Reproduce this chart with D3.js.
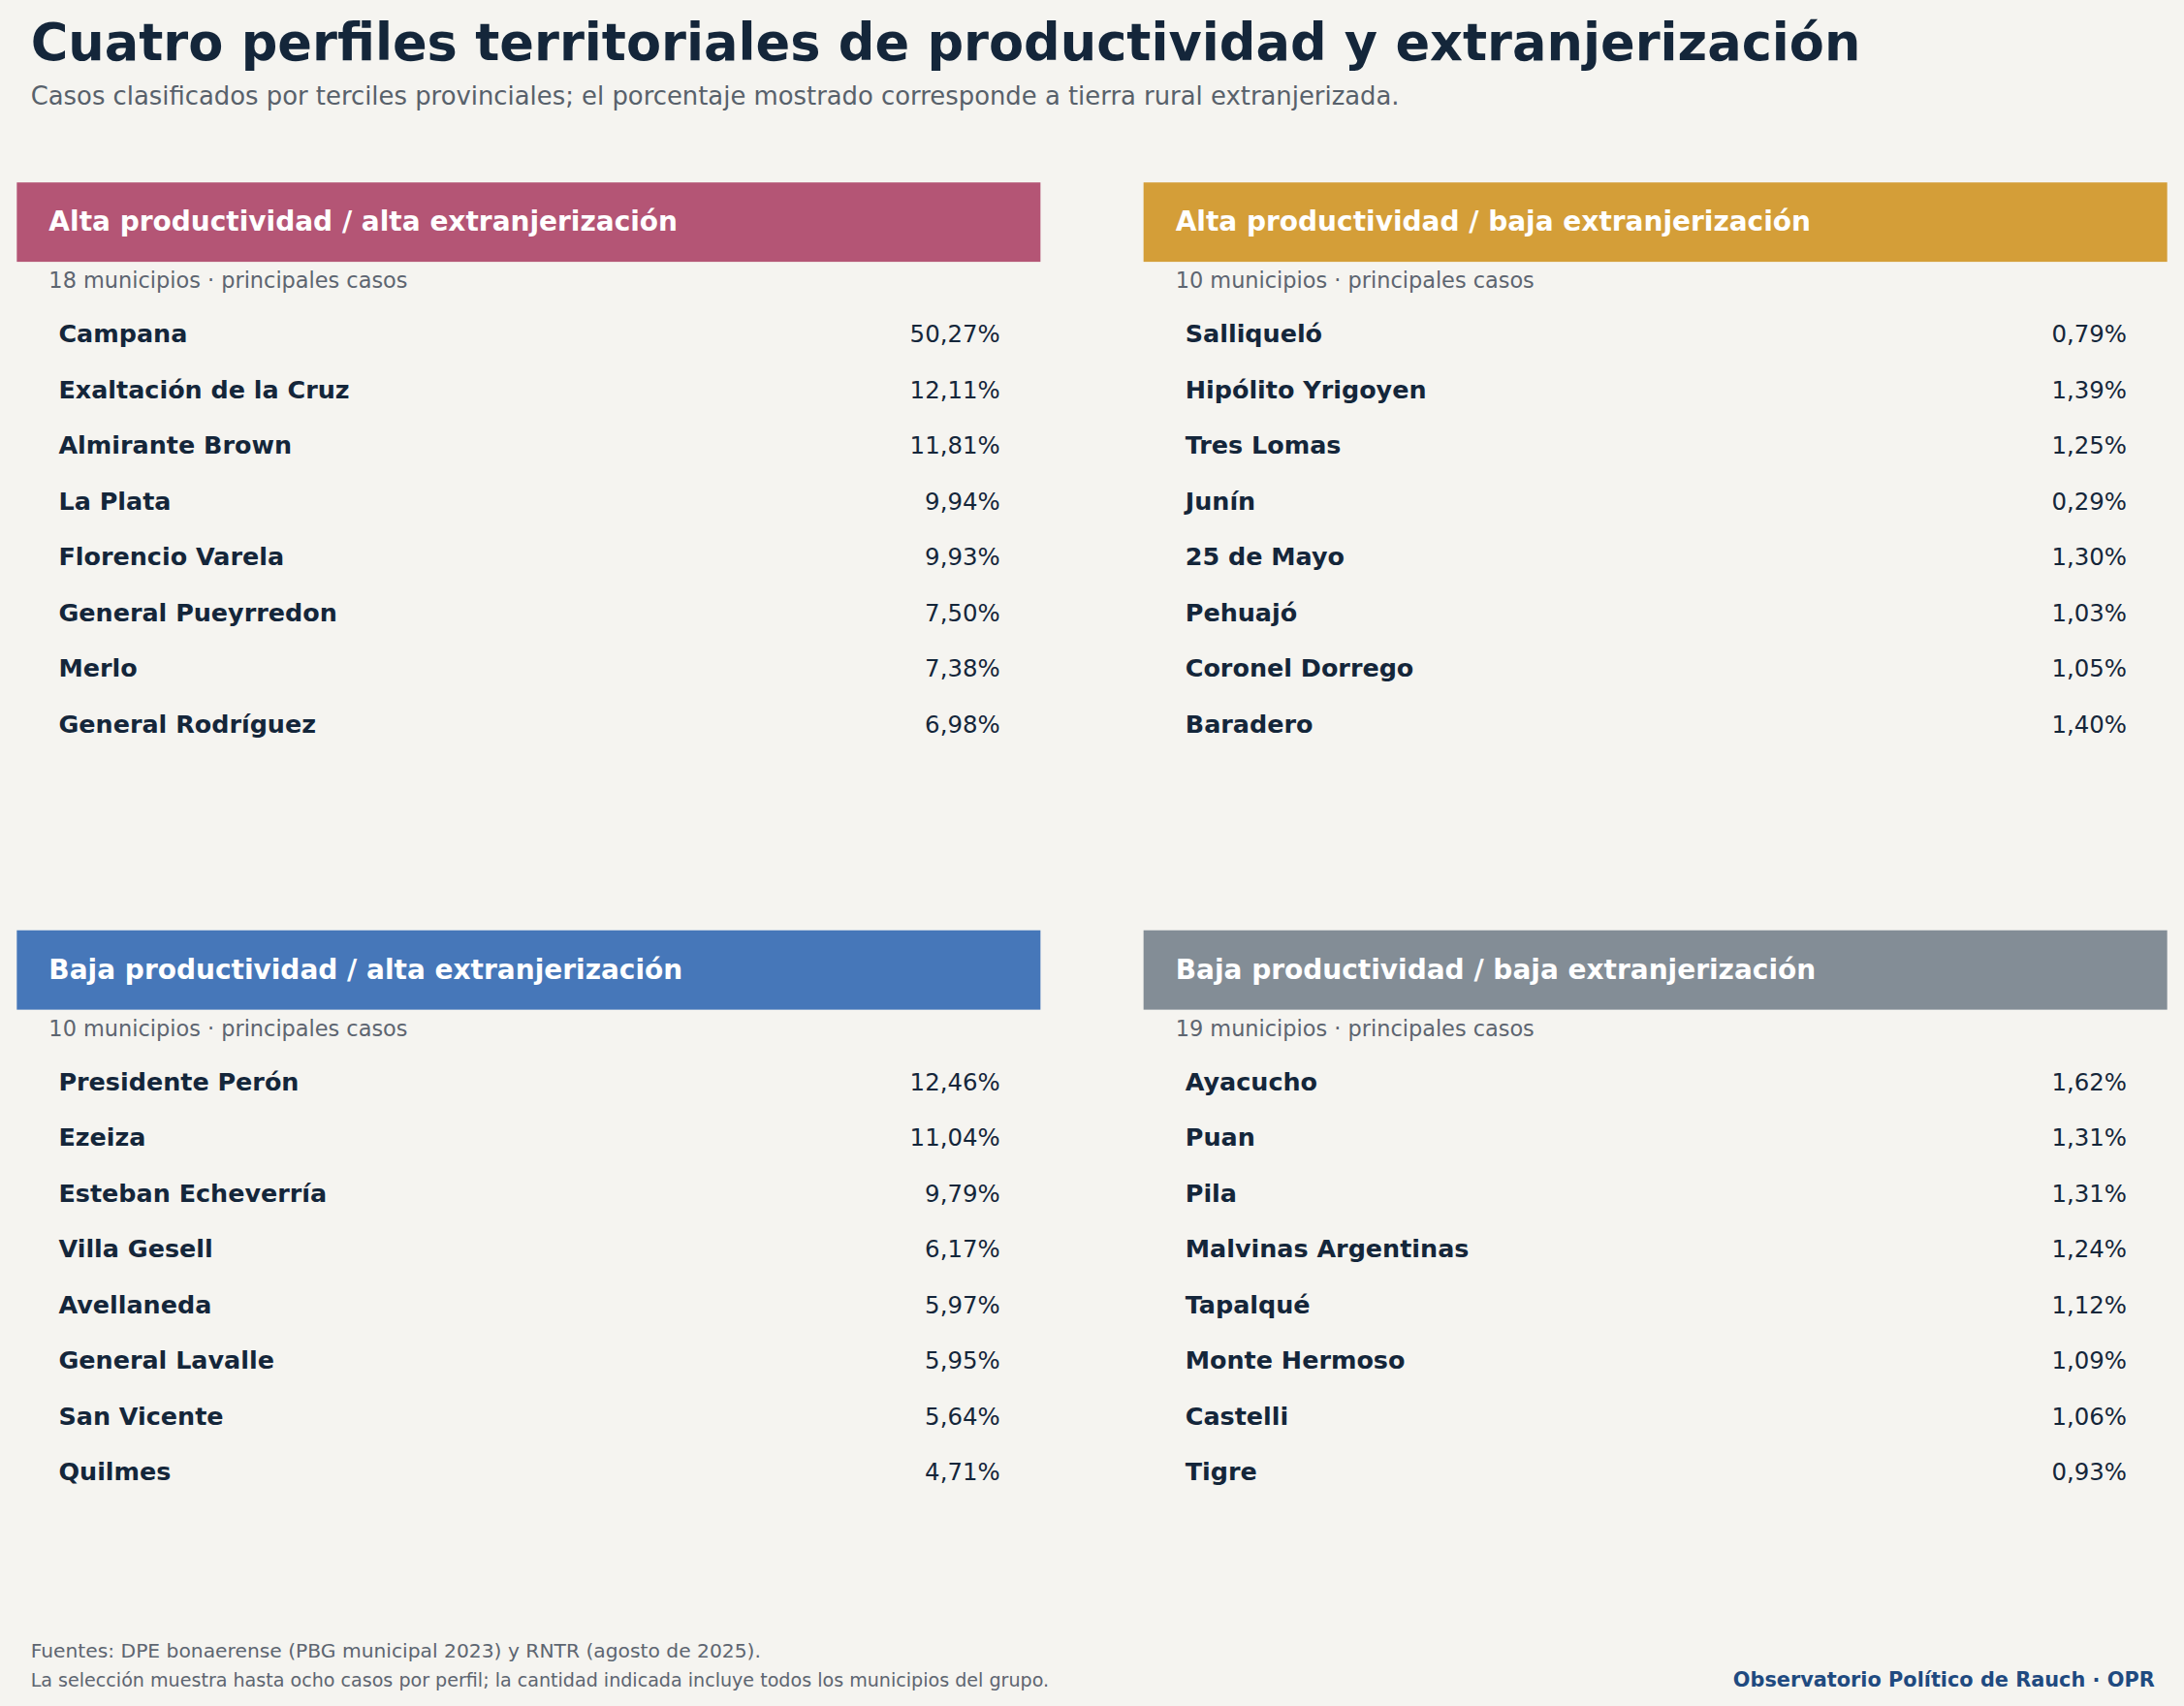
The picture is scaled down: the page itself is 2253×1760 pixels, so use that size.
<!DOCTYPE html>
<html><head><meta charset="utf-8">
<script src="https://cdn.jsdelivr.net/npm/d3@7"></script>
<style>html,body{margin:0;padding:0;background:#f5f4f0}</style>
</head><body>
<script>
const panelTitles = ["Alta productividad / alta extranjerización","Alta productividad / baja extranjerización","Baja productividad / alta extranjerización","Baja productividad / baja extranjerización"];
const panelColors = ["#b45575","#d49e38","#4677b9","#838d96"];
const panelCounts = [18,10,10,19];
const names1 = ["Campana","Exaltación de la Cruz","Almirante Brown","La Plata","Florencio Varela","General Pueyrredon","Merlo","General Rodríguez"];
const values1 = [50.27,12.11,11.81,9.94,9.93,7.50,7.38,6.98];
const names2 = ["Salliqueló","Hipólito Yrigoyen","Tres Lomas","Junín","25 de Mayo","Pehuajó","Coronel Dorrego","Baradero"];
const values2 = [0.79,1.39,1.25,0.29,1.30,1.03,1.05,1.40];
const names3 = ["Presidente Perón","Ezeiza","Esteban Echeverría","Villa Gesell","Avellaneda","General Lavalle","San Vicente","Quilmes"];
const values3 = [12.46,11.04,9.79,6.17,5.97,5.95,5.64,4.71];
const names4 = ["Ayacucho","Puan","Pila","Malvinas Argentinas","Tapalqué","Monte Hermoso","Castelli","Tigre"];
const values4 = [1.62,1.31,1.31,1.24,1.12,1.09,1.06,0.93];
const allNames=[names1,names2,names3,names4], allVals=[values1,values2,values3,values4];

const W=1568,H=1225;
const svg=d3.select("body").append("svg").attr("width",2253).attr("height",1760)
 .attr("viewBox",`0 0 ${W} ${H}`).style("font-family","DejaVu Sans, sans-serif").style("display","block");
svg.append("rect").attr("width",W).attr("height",H).attr("fill","#f5f4f0");
svg.append("text").attr("x",22).attr("y",43).attr("font-size",36.6).attr("font-weight","bold").attr("fill","#14263a").text("Cuatro perfiles territoriales de productividad y extranjerización");
svg.append("text").attr("x",22).attr("y",75).attr("font-size",18).attr("fill","#58616b").text("Casos clasificados por terciles provinciales; el porcentaje mostrado corresponde a tierra rural extranjerizada.");

const fmt=v=>v.toFixed(2).replace(".",",")+"%";
const px=[12,821], py=[131,668], pw=735, hh=57;
const rowY=d3.scaleLinear().domain([0,1]).range([0,40]);
for(let i=0;i<4;i++){
  const x0=px[i%2], y0=py[Math.floor(i/2)];
  const g=svg.append("g").attr("transform",`translate(${x0},${y0})`);
  g.append("rect").attr("width",pw).attr("height",hh).attr("fill",panelColors[i]);
  g.append("text").attr("x",23).attr("y",35).attr("font-size",19.5).attr("font-weight","bold").attr("fill","#fff").text(panelTitles[i]);
  g.append("text").attr("x",23).attr("y",76).attr("font-size",15.6).attr("fill","#5d6570").text(`${panelCounts[i]} municipios · principales casos`);
  const rows=g.selectAll("g.r").data(allNames[i].map((n,k)=>({n,v:allVals[i][k]}))).join("g")
    .attr("transform",(d,k)=>`translate(0,${115+rowY(k)})`);
  rows.append("text").attr("x",30).attr("font-size",17.7).attr("font-weight","bold").attr("fill","#14263a").text(d=>d.n);
  rows.append("text").attr("x",706).attr("text-anchor","end").attr("font-size",17).attr("fill","#14263a").text(d=>fmt(d.v));
}
svg.append("text").attr("x",22).attr("y",1190).attr("font-size",14.1).attr("fill","#5d6570").text("Fuentes: DPE bonaerense (PBG municipal 2023) y RNTR (agosto de 2025).");
svg.append("text").attr("x",22).attr("y",1211).attr("font-size",13.3).attr("fill","#5d6570").text("La selección muestra hasta ocho casos por perfil; la cantidad indicada incluye todos los municipios del grupo.");
svg.append("text").attr("x",1547).attr("y",1211).attr("text-anchor","end").attr("font-size",14.5).attr("font-weight","bold").attr("fill","#1f4a80").text("Observatorio Político de Rauch · OPR");
</script>
</body></html>
